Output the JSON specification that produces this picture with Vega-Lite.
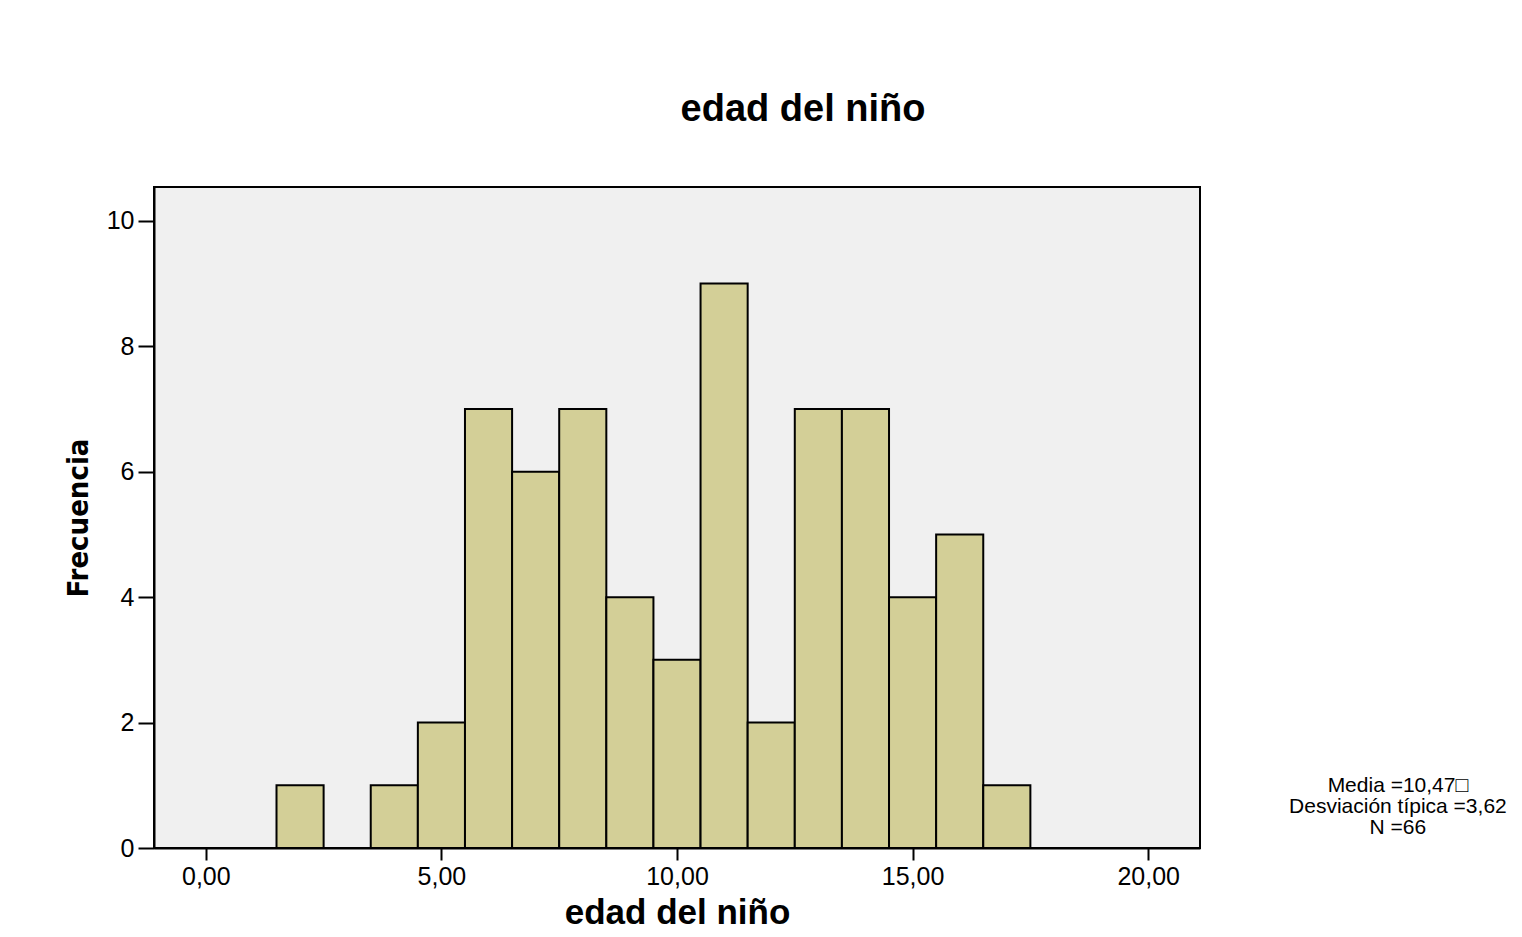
{
  "$schema": "https://vega.github.io/schema/vega-lite/v6.json",
  "autosize": {"type": "none"},
  "width": 1046,
  "height": 661,
  "padding": {"left": 154, "top": 187, "right": 322, "bottom": 89},
  "background": "#ffffff",
  "title": {
    "text": "edad del niño",
    "font": "Liberation Sans",
    "fontSize": 38,
    "fontWeight": "bold",
    "color": "#000000",
    "anchor": "middle",
    "dx": 126,
    "offset": 58
  },
  "config": {
    "view": {"fill": "#f0f0f0", "stroke": "#000000", "strokeWidth": 2},
    "axis": {
      "grid": false,
      "domainColor": "#000000",
      "domainWidth": 2,
      "tickColor": "#000000",
      "tickWidth": 2,
      "labelFont": "Liberation Sans",
      "labelFontSize": 25,
      "labelColor": "#000000",
      "titleColor": "#000000",
      "titleFontWeight": "bold"
    }
  },
  "datasets": {
    "bins": [
      {"desde": 1.5, "hasta": 2.5, "frecuencia": 1},
      {"desde": 3.5, "hasta": 4.5, "frecuencia": 1},
      {"desde": 4.5, "hasta": 5.5, "frecuencia": 2},
      {"desde": 5.5, "hasta": 6.5, "frecuencia": 7},
      {"desde": 6.5, "hasta": 7.5, "frecuencia": 6},
      {"desde": 7.5, "hasta": 8.5, "frecuencia": 7},
      {"desde": 8.5, "hasta": 9.5, "frecuencia": 4},
      {"desde": 9.5, "hasta": 10.5, "frecuencia": 3},
      {"desde": 10.5, "hasta": 11.5, "frecuencia": 9},
      {"desde": 11.5, "hasta": 12.5, "frecuencia": 2},
      {"desde": 12.5, "hasta": 13.5, "frecuencia": 7},
      {"desde": 13.5, "hasta": 14.5, "frecuencia": 7},
      {"desde": 14.5, "hasta": 15.5, "frecuencia": 4},
      {"desde": 15.5, "hasta": 16.5, "frecuencia": 5},
      {"desde": 16.5, "hasta": 17.5, "frecuencia": 1}
    ],
    "resumen": [
      {"media": "10,47", "desviacion": "3,62", "n": 66}
    ]
  },
  "layer": [
    {
      "data": {"name": "bins"},
      "mark": {"type": "rect", "fill": "#d3cf97", "stroke": "#000000", "strokeWidth": 2},
      "encoding": {
        "x": {
          "field": "desde",
          "type": "quantitative",
          "scale": {"domain": [-1.1, 21.1], "nice": false, "zero": false},
          "axis": {
            "values": [0, 5, 10, 15, 20],
            "labelExpr": "replace(format(datum.value, '.2f'), '.', ',')",
            "tickSize": 12,
            "labelPadding": 4,
            "title": "edad del niño",
            "titleFont": "Liberation Sans",
            "titleFontSize": 35,
            "titlePadding": 6
          }
        },
        "x2": {"field": "hasta"},
        "y": {
          "field": "frecuencia",
          "type": "quantitative",
          "scale": {"domain": [0, 10.54], "nice": false},
          "axis": {
            "values": [0, 2, 4, 6, 8, 10],
            "format": "d",
            "tickSize": 16,
            "labelPadding": 4,
            "title": "Frecuencia",
            "titleFont": "DejaVu Sans Condensed, Liberation Sans",
            "titleFontSize": 29,
            "titlePadding": 13
          }
        },
        "y2": {"datum": 0}
      }
    },
    {
      "data": {"name": "resumen"},
      "mark": {
        "type": "text",
        "font": "Liberation Sans",
        "fontSize": 21,
        "lineHeight": 21,
        "align": "center",
        "baseline": "middle",
        "color": "#000000",
        "clip": false
      },
      "encoding": {
        "x": {"datum": 25.3, "type": "quantitative"},
        "y": {"datum": 0.99, "type": "quantitative"},
        "text": {"value": ["Media =10,47□", "Desviación típica =3,62", "N =66"]}
      }
    }
  ]
}
